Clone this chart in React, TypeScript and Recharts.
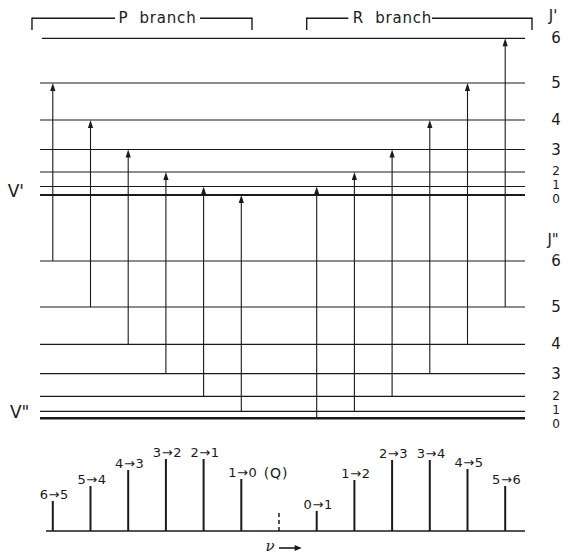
import React from 'react';
import { ComposedChart, XAxis, YAxis, ReferenceLine, Scatter } from 'recharts';

// Rotational levels (energy in arbitrary units)
const upperJ = [0, 1, 2, 3, 4, 5, 6];
const upperEnergy = [361, 369.5, 384, 406.5, 436, 473, 517.7];
const lowerJ = [0, 1, 2, 3, 4, 5, 6];
const lowerEnergy = [137.7, 144.7, 159.7, 182.3, 211.7, 249, 295];

// P branch (relative wavenumber in line-spacing units)
const pNu = [-6, -5, -4, -3, -2, -1];
const pLowerJ = [6, 5, 4, 3, 2, 1];
const pUpperJ = [5, 4, 3, 2, 1, 0];
const pIntensity = [30, 45, 61, 72, 72, 52];
const pLabels = ['6→5', '5→4', '4→3', '3→2', '2→1', '1→0'];

// R branch
const rNu = [1, 2, 3, 4, 5, 6];
const rLowerJ = [0, 1, 2, 3, 4, 5];
const rUpperJ = [1, 2, 3, 4, 5, 6];
const rIntensity = [20, 51, 71, 71, 62, 45];
const rLabels = ['0→1', '1→2', '2→3', '3→4', '4→5', '5→6'];

// Q position (forbidden, dashed)
const qNu = 0;
const qIntensity = 20;
const spectrumBase = 25;

// ---- layout (not data) ----
const X_DOMAIN: [number, number] = [-7.4005, 7.7188];
const Y_DOMAIN: [number, number] = [0, 556];
const LEVEL_X0 = -6.34;
const LEVEL_X1 = 6.525;
const BASE_X0 = -6.18;
const BASE_X1 = 6.525;
const J_LABEL_X = 7.35;
const FONT = '"DejaVu Sans", Verdana, sans-serif';
const INK = '#1a1a1a';

type Lbl = { x: number; y: number; text: string; fs: number; ls?: number; italic?: boolean; family?: string };

// label nudges for crowded low-J levels
const upperNudge = [-3.5, 1.5, 1, 0, 0, 0, 0];
const lowerNudge = [-5.2, 1.8, 0.8, 0, 0, 0, 0];

const levelLabels: Lbl[] = [
  { x: 7.27, y: 540, text: "J'", fs: 15 },
  ...upperJ.map((j, i) => ({
    x: J_LABEL_X,
    y: upperEnergy[i] + upperNudge[i],
    text: String(j),
    fs: j <= 2 ? 12 : 15,
  })),
  { x: 7.27, y: 316, text: 'J"', fs: 15 },
  ...lowerJ.map((j, i) => ({
    x: J_LABEL_X,
    y: lowerEnergy[i] + lowerNudge[i],
    text: String(j),
    fs: j <= 2 ? 12 : 15,
  })),
  { x: -6.98, y: 365, text: "V'", fs: 17 },
  { x: -6.88, y: 144, text: 'V"', fs: 17 },
  { x: -3.223, y: 537.7, text: 'P  branch', fs: 15, ls: 0.8 },
  { x: 3.011, y: 537.7, text: 'R  branch', fs: 15, ls: 0.8 },
];

const spectrumLabels: Lbl[] = [
  ...pNu.map((nu, i) => ({ x: nu + 0.04, y: spectrumBase + pIntensity[i] + 7, text: pLabels[i], fs: 13, ls: 0.6 })),
  ...rNu.map((nu, i) => ({ x: nu + 0.04, y: spectrumBase + rIntensity[i] + 7, text: rLabels[i], fs: 13, ls: 0.6 })),
  { x: -0.08, y: 83.3, text: '(Q)', fs: 14, ls: 0.8 },
];

const arrowHeads = [
  ...pNu.map((nu, i) => ({ x: nu, y: upperEnergy[pUpperJ[i]] })),
  ...rNu.map((nu, i) => ({ x: nu, y: upperEnergy[rUpperJ[i]] })),
];

const renderText = (p: any) => {
  const d: Lbl = p.payload;
  return (
    <text
      x={p.cx}
      y={p.cy}
      textAnchor="middle"
      dominantBaseline="central"
      fontSize={d.fs}
      fontFamily={d.family || FONT}
      fontStyle={d.italic ? 'italic' : 'normal'}
      letterSpacing={d.ls || 0}
      fill={INK}
      style={{ whiteSpace: 'pre' }}
    >
      {d.text}
    </text>
  );
};

const renderHead = (p: any) => (
  <path
    d={`M${p.cx},${p.cy} L${p.cx - 2.6},${p.cy + 8} L${p.cx + 2.6},${p.cy + 8} Z`}
    fill={INK}
  />
);

const seg = (x0: number, y0: number, x1: number, y1: number) =>
  [{ x: x0, y: y0 }, { x: x1, y: y1 }] as any;

export default function App() {
  return (
    <div style={{ position: 'absolute', left: 0, top: 0, width: 570, height: 556, background: '#fff' }}>
      <ComposedChart width={570} height={556} margin={{ top: 0, right: 0, bottom: 0, left: 0 }}>
        <XAxis type="number" dataKey="x" domain={X_DOMAIN} hide allowDataOverflow />
        <YAxis type="number" dataKey="y" domain={Y_DOMAIN} hide allowDataOverflow />

        {/* upper levels */}
        {upperEnergy.map((e, i) => (
          <ReferenceLine
            key={'u' + i}
            segment={seg(i === 6 ? -6.29 : LEVEL_X0, e, LEVEL_X1, e)}
            stroke={INK}
            strokeWidth={i === 0 ? 2 : 1.2}
          />
        ))}
        {/* lower levels */}
        {lowerEnergy.map((e, i) => (
          <ReferenceLine
            key={'l' + i}
            segment={seg(LEVEL_X0, e, LEVEL_X1, e)}
            stroke={INK}
            strokeWidth={i === 0 ? 2.6 : 1.2}
          />
        ))}

        {/* transitions */}
        {pNu.map((nu, i) => (
          <ReferenceLine
            key={'pa' + i}
            segment={seg(nu, lowerEnergy[pLowerJ[i]], nu, upperEnergy[pUpperJ[i]] - 6)}
            stroke={INK}
            strokeWidth={1.1}
          />
        ))}
        {rNu.map((nu, i) => (
          <ReferenceLine
            key={'ra' + i}
            segment={seg(nu, lowerEnergy[rLowerJ[i]], nu, upperEnergy[rUpperJ[i]] - 6)}
            stroke={INK}
            strokeWidth={1.1}
          />
        ))}

        {/* brackets */}
        <ReferenceLine segment={seg(-6.552, 537.7, -4.35, 537.7)} stroke={INK} strokeWidth={1.4} />
        <ReferenceLine segment={seg(-2.095, 537.7, -0.716, 537.7)} stroke={INK} strokeWidth={1.4} />
        <ReferenceLine segment={seg(-6.552, 538.4, -6.552, 526)} stroke={INK} strokeWidth={1.4} />
        <ReferenceLine segment={seg(-0.716, 538.4, -0.716, 526)} stroke={INK} strokeWidth={1.4} />
        <ReferenceLine segment={seg(0.735, 537.7, 1.838, 537.7)} stroke={INK} strokeWidth={1.4} />
        <ReferenceLine segment={seg(4.058, 537.7, 6.711, 537.7)} stroke={INK} strokeWidth={1.4} />
        <ReferenceLine segment={seg(0.735, 538.4, 0.735, 526)} stroke={INK} strokeWidth={1.4} />
        <ReferenceLine segment={seg(6.711, 538.4, 6.711, 526)} stroke={INK} strokeWidth={1.4} />

        {/* spectrum */}
        <ReferenceLine segment={seg(BASE_X0, spectrumBase, BASE_X1, spectrumBase)} stroke={INK} strokeWidth={1.5} />
        {pNu.map((nu, i) => (
          <ReferenceLine
            key={'ps' + i}
            segment={seg(nu, spectrumBase, nu, spectrumBase + pIntensity[i])}
            stroke={INK}
            strokeWidth={2}
          />
        ))}
        {rNu.map((nu, i) => (
          <ReferenceLine
            key={'rs' + i}
            segment={seg(nu, spectrumBase, nu, spectrumBase + rIntensity[i])}
            stroke={INK}
            strokeWidth={2}
          />
        ))}
        <ReferenceLine
          segment={seg(qNu, spectrumBase, qNu, spectrumBase + qIntensity)}
          stroke={INK}
          strokeWidth={1.5}
          strokeDasharray="4 3"
        />
        {/* ν arrow */}
        <ReferenceLine segment={seg(0.0, 8, 0.55, 8)} stroke={INK} strokeWidth={1.6} />

        <Scatter data={arrowHeads} isAnimationActive={false} shape={renderHead} />
        <Scatter data={levelLabels} isAnimationActive={false} shape={renderText} />
        <Scatter data={spectrumLabels} isAnimationActive={false} shape={renderText} />
        <Scatter
          data={[{ x: -0.24, y: 10, text: 'ν', fs: 15, italic: true, family: '"DejaVu Serif", serif' }]}
          isAnimationActive={false}
          shape={renderText}
        />
        <Scatter
          data={[{ x: 0.6, y: 8 }]}
          isAnimationActive={false}
          shape={(p: any) => (
            <path d={`M${p.cx},${p.cy} L${p.cx - 7},${p.cy - 3} L${p.cx - 7},${p.cy + 3} Z`} fill={INK} />
          )}
        />
      </ComposedChart>
    </div>
  );
}
